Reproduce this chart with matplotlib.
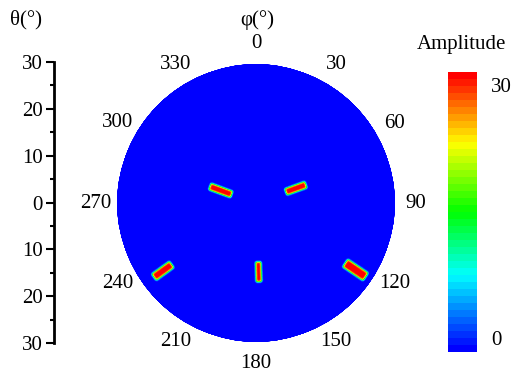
import numpy as np
import matplotlib
matplotlib.use('Agg')
import matplotlib.pyplot as plt
from matplotlib.colors import LinearSegmentedColormap

# angular tick labels (phi, clockwise from top)
phi_ticks = [0, 30, 60, 90, 120, 150, 180, 210, 240, 270, 300, 330]
theta_ticks = [-30, -20, -10, 0, 10, 20, 30]
theta_labels = ['30', '20', '10', '0', '10', '20', '30']

# spots: centre (phi, theta), radial length, width (deg)
spot_phi = [290, 70, 234, 124, 178]
spot_theta = [8.2, 9.3, 25.0, 26.0, 15.0]
spot_len = [5.0, 4.6, 4.7, 5.3, 4.3]
spot_wid = [1.5, 1.5, 1.7, 2.0, 1.2]
spot_amp = [30, 30, 30, 30, 30]

amp_min, amp_max = 0, 30

plt.rcParams['font.family'] = ['Liberation Serif', 'DejaVu Serif']
plt.rcParams['font.size'] = 15

cmap = LinearSegmentedColormap.from_list(
    'amp', [(0.0, '#0000ff'), (0.27, '#00ffff'), (0.5, '#00ff00'),
            (0.75, '#ffff00'), (1.0, '#ff0000')], N=40)


def spot_field(phi_deg, theta):
    ph = np.radians(phi_deg)
    x = theta * np.sin(ph)
    y = theta * np.cos(ph)
    z = np.zeros_like(theta)
    e = 0.12
    for p, t, l, w, a in zip(spot_phi, spot_theta, spot_len, spot_wid, spot_amp):
        pr = np.radians(p)
        ux, uy = np.sin(pr), np.cos(pr)
        dx = x - t * ux
        dy = y - t * uy
        u = dx * ux + dy * uy
        v = -dx * uy + dy * ux
        su = 1.0 / (1.0 + np.exp(-(l / 2 - np.abs(u)) / e))
        sv = 1.0 / (1.0 + np.exp(-(w / 2 - np.abs(v)) / e))
        z += a * su * sv
    return z


fig = plt.figure(figsize=(5.17, 3.73), dpi=100)

ax = fig.add_axes([117 / 517, 30 / 373, 278 / 517, 280 / 373], projection='polar')
ax.set_theta_zero_location('N')
ax.set_theta_direction(-1)

phi_grid = np.linspace(0, 360, 1441)
th_grid = np.linspace(0, 30, 401)
P, T = np.meshgrid(phi_grid, th_grid)
Z = spot_field(P, T)
mesh = ax.pcolormesh(np.radians(P), T, Z, cmap=cmap, vmin=amp_min, vmax=amp_max,
                     shading='gouraud')
ax.set_ylim(0, 30)
ax.set_xticks([])
ax.set_yticks([])
ax.grid(False)
ax.spines['polar'].set_visible(False)

for p in phi_ticks:
    ax.text(np.radians(p), 30 * 160 / 139, str(p), ha='center', va='center',
            clip_on=False)

# theta scale on the left
axt = fig.add_axes([54 / 517, 30 / 373, 0.001, 281 / 373])
axt.set_facecolor('none')
for s in ['top', 'bottom', 'right']:
    axt.spines[s].set_visible(False)
axt.spines['left'].set_linewidth(2)
axt.set_xticks([])
axt.set_ylim(-30, 30)
axt.set_yticks(theta_ticks)
axt.set_yticklabels(theta_labels)
axt.set_yticks(np.arange(-25, 30, 10), minor=True)
axt.tick_params(axis='y', which='major', length=6, width=1.5, pad=2)
axt.tick_params(axis='y', which='minor', length=3, width=1.5)

# colour bar
cax = fig.add_axes([448 / 517, 21 / 373, 29 / 517, 280 / 373])
cb = fig.colorbar(mesh, cax=cax)
cb.outline.set_visible(False)
cb.set_ticks([])
cax.text(1.48, 0.943, '30', transform=cax.transAxes, ha='left', va='center')
cax.text(1.48, 0.04, '0', transform=cax.transAxes, ha='left', va='center')

fig.text(26 / 517, 1 - 20 / 373, 'θ(°)', ha='center', va='center')
fig.text(257 / 517, 1 - 20 / 373, 'φ(°)', ha='center', va='center')
fig.text(461 / 517, 1 - 45 / 373, 'Amplitude', ha='center', va='center')

fig.savefig('out.png', dpi=100)
